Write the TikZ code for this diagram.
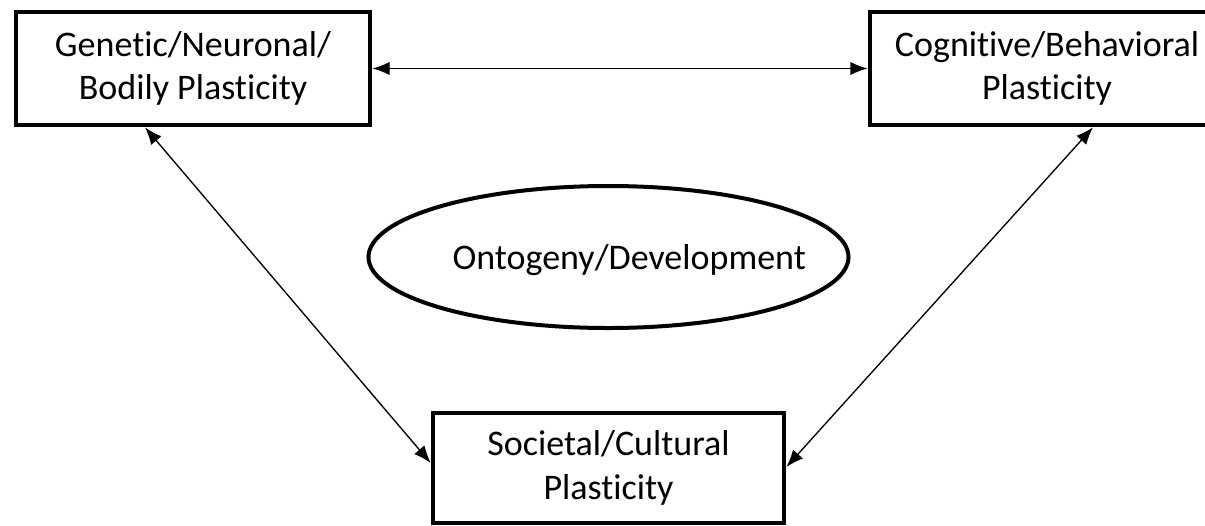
\documentclass[tikz,border=0pt]{standalone}
\usepackage{fontspec}
\setmainfont[Ligatures=CommonOff]{Carlito}
\usetikzlibrary{shapes.geometric,arrows.meta}

\begin{document}
\begin{tikzpicture}
		[
		x=0.75pt,
		y=-0.75pt,
		plasticbox/.style={
			draw,
			line width=3.5pt,
			minimum width=265.5pt,
			minimum height=84.75pt,
			align=center,
			font=\fontsize{27}{32.5}\selectfont},
		link/.style={
			line width=1pt,
			{Latex[length=13pt,width=10pt]}-{Latex[length=13pt,width=10pt]}}
		]
		% page
		\useasboundingbox (0,0) rectangle (1205,525);
		\clip (0,0) rectangle (1205,525);
		% genetic box
		\node[plasticbox] (gen) at (193,68.5) {Genetic/Neuronal/\\Bodily Plasticity};
		% cognitive box
		\node[plasticbox] (cog) at (1047,68.5) {Cognitive/Behavioral\\Plasticity};
		% societal box
		\node[plasticbox,
		minimum width=263.25pt,
		minimum height=82.5pt] (soc) at (608.5,468) {Societal/Cultural\\Plasticity};
		% development ellipse
		\node[draw,
		ellipse,
		line width=3pt,
		minimum width=360pt,
		minimum height=106.5pt] (dev) at (608.5,257) {};
		\node[font=\fontsize{27}{32.5}\selectfont,
		xshift=15.5pt,
		yshift=-2pt] (devtext) at (dev.center) {Ontogeny/Development};

		% links
		\draw[link] (gen.east) -- (cog.west);
		\draw[link] ([xshift=-36pt]gen.south) -- ([yshift=3.75pt]soc.west);
		\draw[link] ([xshift=34.5pt]cog.south) -- ([yshift=0.75pt]soc.east);
\end{tikzpicture}
\end{document}
